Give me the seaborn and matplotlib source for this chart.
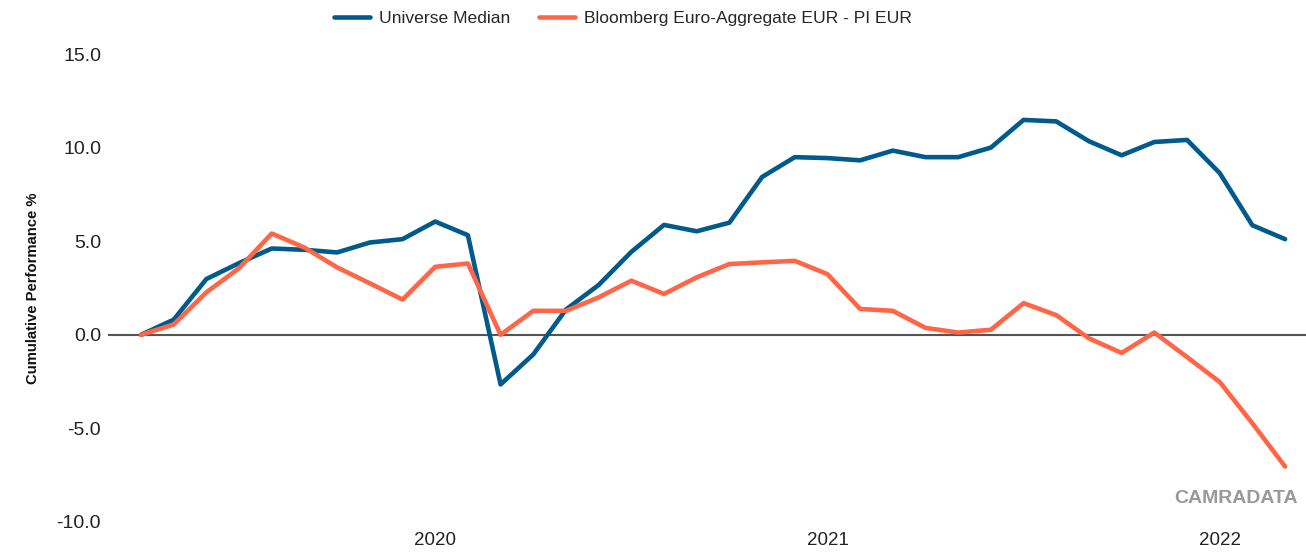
import pandas as pd
import matplotlib
matplotlib.use("Agg")
import matplotlib.pyplot as plt
import seaborn as sns
from matplotlib import font_manager

# month-end observations, Apr 2019 .. Mar 2022
months = pd.date_range("2019-04-30", periods=36, freq="ME")

universe_median = [0.0, 0.81, 2.98, 3.83, 4.61, 4.54, 4.40, 4.93, 5.11, 6.05, 5.32, -2.65,
                   -1.05, 1.35, 2.66, 4.43, 5.87, 5.53, 5.99, 8.43, 9.49, 9.44, 9.32, 9.84,
                   9.49, 9.49, 10.0, 11.48, 11.40, 10.34, 9.59, 10.30, 10.41, 8.64, 5.85, 5.11]
bloomberg_agg = [0.0, 0.55, 2.27, 3.56, 5.41, 4.66, 3.60, 2.75, 1.88, 3.63, 3.81, 0.0,
                 1.28, 1.28, 2.0, 2.89, 2.18, 3.07, 3.78, 3.87, 3.95, 3.24, 1.38, 1.28,
                 0.37, 0.12, 0.27, 1.69, 1.05, -0.19, -0.97, 0.12, -1.19, -2.52, -4.73, -7.04]

series_names = ["Universe Median", "Bloomberg Euro-Aggregate EUR - PI EUR"]
colors = ["#005A8C", "#FF6647"]
y_ticks = [15.0, 10.0, 5.0, 0.0, -5.0, -10.0]
year_ticks = ["2020", "2021", "2022"]

df = pd.DataFrame({
    "idx": list(range(len(months))) * 2,
    "value": universe_median + bloomberg_agg,
    "series": [series_names[0]] * len(months) + [series_names[1]] * len(months),
})

installed = {f.name for f in font_manager.fontManager.ttflist}
narrow = "Liberation Sans Narrow" if "Liberation Sans Narrow" in installed else "Liberation Sans"

sns.set_theme(style="white")
plt.rcParams["font.family"] = ["Liberation Sans", "DejaVu Sans"]

fig = plt.figure(figsize=(13.06, 5.54), dpi=100)
ax = fig.add_axes([0.0827, 0.0578, 0.9173, 0.8447])

sns.lineplot(data=df, x="idx", y="value", hue="series", palette=colors,
             linewidth=3.3, ax=ax, legend=False, zorder=3)

ax.axhline(0, color="#555555", linewidth=1.5, zorder=2)
ax.set_ylim(-10, 15)
ax.set_xlim(-1.01, 35.64)
ax.set_yticks(y_ticks)
ax.set_yticklabels([f"{v:.1f}" for v in y_ticks], fontfamily=narrow, fontsize=14, color="#222222")
# year labels sit on the January observations
jan_pos = [i for i, m in enumerate(months) if m.month == 1]
ax.set_xticks(jan_pos)
ax.set_xticklabels(year_ticks, fontfamily=narrow, fontsize=13.5, color="#222222")
ax.tick_params(axis="y", length=0, pad=5)
ax.tick_params(axis="x", length=0, pad=7)
for s in ax.spines.values():
    s.set_visible(False)

ax.set_xlabel("")
ax.set_ylabel("Cumulative Performance %", fontsize=10.7, fontweight="bold", color="#111111")
ax.yaxis.set_label_coords(-0.057, 0.5)

handles = [plt.Line2D([0], [0], color=c, linewidth=3.3) for c in colors]
fig.legend(handles, series_names, loc="center", bbox_to_anchor=(0.477, 0.967), ncol=2,
           frameon=False, handlelength=2.05, columnspacing=1.65, handletextpad=0.5,
           prop={"family": narrow, "size": 12.6})

fig.text(0.9935, 0.1, "CAMRADATA", ha="right", va="center", fontsize=14,
         fontweight="bold", color="#999999")

fig.savefig("out.png", dpi=100)
